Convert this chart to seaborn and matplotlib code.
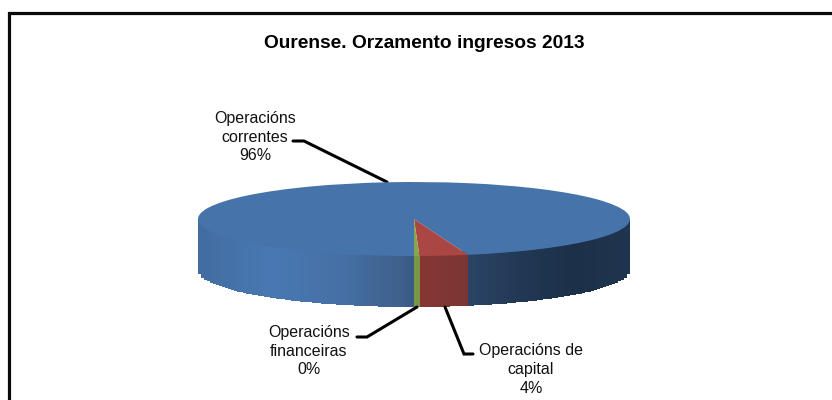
import numpy as np
import matplotlib
matplotlib.use("Agg")
import matplotlib.pyplot as plt
import seaborn as sns

# Datos do orzamento
categories = ["Operacións correntes", "Operacións de capital", "Operacións financeiras"]
values = [96.0, 3.6, 0.4]
label_texts = ["Operacións\ncorrentes\n96%", "Operacións de\ncapital\n4%", "Operacións\nfinanceiras\n0%"]
title_text = "Ourense. Orzamento ingresos 2013"

sns.set_theme(style="white")
plt.rcParams["font.family"] = ["Liberation Sans", "DejaVu Sans"]

W, H = 832, 400
top_colors = sns.color_palette(["#4674AA", "#AA4643", "#89A54E"])

# geometria da torta en pixeles
cx, cy, rx, ry, depth = 414, 219, 216, 37, 51

fig = plt.figure(figsize=(W / 100, H / 100), dpi=100, facecolor="white")
ax = fig.add_axes([0, 0, 1, 1])
ax.set_xlim(0, W)
ax.set_ylim(H, 0)
ax.axis("off")

# marco do grafico (sen lado dereito nin inferior)
ax.plot([8.5, 8.5, W], [H, 12.5, 12.5], color="#0a0a0a", lw=2.3, solid_joinstyle="miter", solid_capstyle="butt")

ax.text(424.5, 43, title_text, ha="center", va="center", fontsize=13.8, fontweight="bold", color="black")


def blue_shade(x):
    # sombreado do lateral, de esquerda a dereita
    xs = [198, 270, 340, 400, 470, 530, 575, 630]
    rs = [66, 72, 70, 62, 42, 32, 28, 31]
    gs = [108, 120, 112, 96, 68, 54, 48, 52]
    bs = [160, 178, 165, 140, 100, 82, 72, 78]
    return (np.interp(x, xs, rs) / 255, np.interp(x, xs, gs) / 255, np.interp(x, xs, bs) / 255)


# lateral: as porcions calculanse desde os valores
angles = -90 - np.cumsum([0] + values) * 3.6
red_start = cx + rx * np.cos(np.radians(angles[1]))
red_end = cx + rx * np.cos(np.radians(angles[2]))
green_end = cx + rx * np.cos(np.radians(angles[3]))

for px in range(cx - rx, cx + rx, 3):
    mid = px + 1.5
    s = np.sqrt(max(0, 1 - ((mid - cx) / rx) ** 2))
    y0 = cy + ry * s
    if red_end <= mid < red_start:
        col = (0.53 - 0.05 * (mid - red_end) / (red_start - red_end), 0.21, 0.2)
    elif green_end <= mid < red_end:
        col = (0.49, 0.59, 0.27)
    else:
        col = blue_shade(mid)
    ax.fill_between([px, px + 3], [y0 - 4, y0 - 4], [y0 + depth, y0 + depth], color=col, lw=0, antialiased=False)

# cara superior: pie de matplotlib nun eixo achatado
ax_top = fig.add_axes([(cx - rx) / W, 1 - (cy + ry) / H, 2 * rx / W, 2 * ry / H])
ax_top.pie(values, colors=top_colors, startangle=-90, counterclock=False, radius=1,
           wedgeprops={"linewidth": 0})
ax_top.set_aspect("auto")
ax_top.set_xlim(-1, 1)
ax_top.set_ylim(-1, 1)

# etiquetas con liña guia
ax.plot([293, 304, 387], [141, 141, 182], color="black", lw=2.2, solid_joinstyle="miter")
ax.plot([357, 367, 417], [337, 337, 307], color="black", lw=2.2, solid_joinstyle="miter")
ax.plot([473, 464, 445], [354, 354, 307], color="black", lw=2.2, solid_joinstyle="miter")

ax.text(255, 137, label_texts[0], ha="center", va="center", fontsize=11.5, linespacing=1.3, color="#111111")
ax.text(309, 351, label_texts[2], ha="center", va="center", fontsize=11.5, linespacing=1.3, color="#111111")
ax.text(531, 369.5, label_texts[1], ha="center", va="center", fontsize=11.5, linespacing=1.3, color="#111111")

fig.savefig("out.png", dpi=100)
